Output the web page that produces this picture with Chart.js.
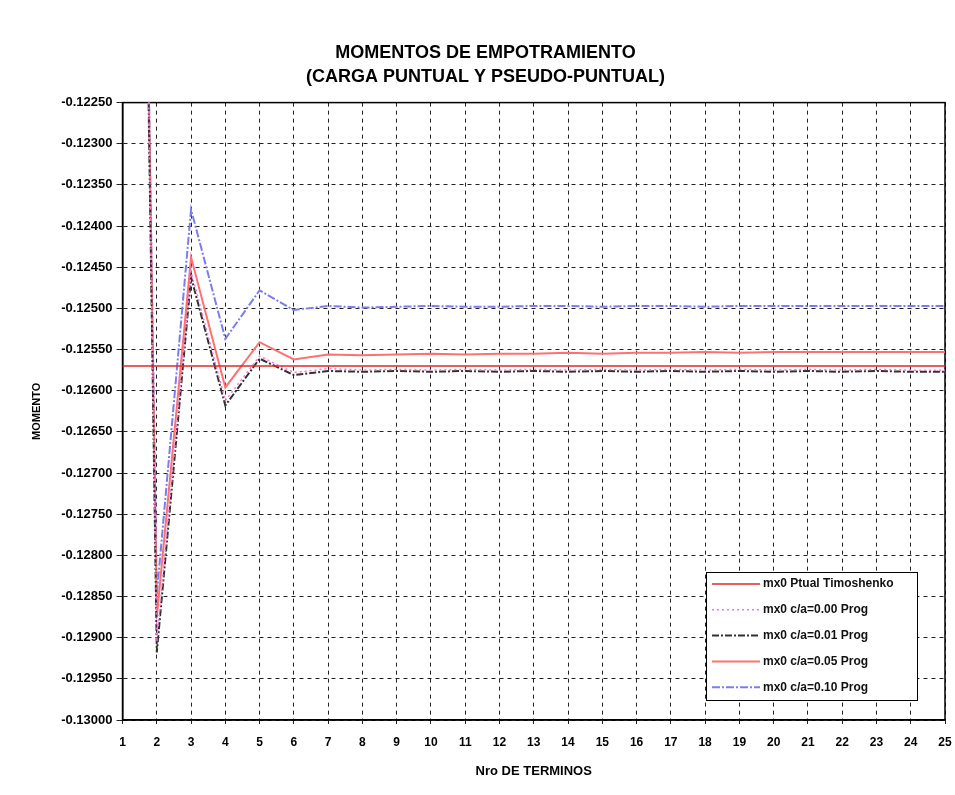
<!DOCTYPE html>
<html>
<head>
<meta charset="utf-8">
<script src="https://cdn.jsdelivr.net/npm/chart.js@4.4.1/dist/chart.umd.min.js"></script>
<style>
  html, body { margin: 0; padding: 0; background: #fff; }
  #wrap { width: 955px; height: 795px; position: relative; }
</style>
</head>
<body>
<div id="wrap"><canvas id="chartMomentos" width="955" height="795"></canvas></div>
<script>
// Nro de terminos (eje X)
const terminos = [1, 2, 3, 4, 5, 6, 7, 8, 9, 10, 11, 12, 13, 14, 15, 16, 17, 18, 19, 20, 21, 22, 23, 24, 25];

// Valor puntual de Timoshenko (constante)
const timoshenko = [-0.1257, -0.1257, -0.1257, -0.1257, -0.1257, -0.1257, -0.1257, -0.1257, -0.1257, -0.1257,
  -0.1257, -0.1257, -0.1257, -0.1257, -0.1257, -0.1257, -0.1257, -0.1257, -0.1257, -0.1257,
  -0.1257, -0.1257, -0.1257, -0.1257, -0.1257];

// Resultados del programa para c/a = 0.00
const prog000 = [-0.1010, -0.12905, -0.12455, -0.12612, -0.12558, -0.12578, -0.12573, -0.12575, -0.12574, -0.12575,
  -0.12574, -0.12575, -0.12574, -0.12575, -0.12574, -0.12575, -0.12574, -0.12575, -0.12574, -0.12575,
  -0.12574, -0.12575, -0.12574, -0.12575, -0.12575];

// c/a = 0.01
const prog001 = [-0.1012, -0.12918, -0.12462, -0.12618, -0.12561, -0.12581, -0.12576, -0.12577, -0.12576, -0.12577,
  -0.12576, -0.12577, -0.12576, -0.12577, -0.12576, -0.12577, -0.12576, -0.12577, -0.12576, -0.12577,
  -0.12576, -0.12577, -0.12576, -0.12577, -0.12577];

// c/a = 0.05
const prog005 = [-0.1014, -0.12875, -0.12438, -0.12596, -0.12541, -0.12562, -0.12556, -0.12557, -0.12556, -0.12555,
  -0.12556, -0.12555, -0.12555, -0.12554, -0.12555, -0.12554, -0.12554, -0.12553, -0.12554, -0.12553,
  -0.12553, -0.12553, -0.12553, -0.12553, -0.12553];

// c/a = 0.10
const prog010 = [-0.1018, -0.12848, -0.12380, -0.12537, -0.12478, -0.12502, -0.12497, -0.12499, -0.12498, -0.12497,
  -0.12498, -0.12498, -0.12497, -0.12497, -0.12498, -0.12497, -0.12497, -0.12498, -0.12497, -0.12497,
  -0.12497, -0.12497, -0.12497, -0.12497, -0.12497];

const yMin = -0.13;
const yMax = -0.1225;
const yStep = 0.0005;

const FONT = "'Liberation Sans', Arial, sans-serif";

// Leyenda dibujada dentro del area del grafico (abajo a la derecha)
const insideLegend = {
  id: 'insideLegend',
  afterDraw(chart) {
    const ctx = chart.ctx;
    const x0 = 706, y0 = 572, w = 211, h = 128;
    ctx.save();
    ctx.fillStyle = '#fff';
    ctx.fillRect(x0, y0, w, h);
    ctx.strokeStyle = '#000';
    ctx.lineWidth = 1;
    ctx.setLineDash([]);
    ctx.strokeRect(x0 + 0.5, y0 + 0.5, w, h);
    ctx.font = 'bold 12px ' + FONT;
    ctx.textBaseline = 'middle';
    chart.data.datasets.forEach((ds, i) => {
      const y = y0 + 12 + i * 25.8;
      ctx.strokeStyle = ds.borderColor;
      ctx.lineWidth = ds.borderWidth;
      ctx.setLineDash(ds.borderDash || []);
      ctx.beginPath();
      ctx.moveTo(x0 + 6, y);
      ctx.lineTo(x0 + 54, y);
      ctx.stroke();
      ctx.setLineDash([]);
      ctx.fillStyle = '#111';
      ctx.fillText(ds.label, x0 + 57, y);
    });
    ctx.restore();
  }
};

// marco solido del area de trazado
const plotFrame = {
  id: 'plotFrame',
  beforeDatasetsDraw(chart) {
    const { ctx, chartArea: a } = chart;
    ctx.save();
    ctx.strokeStyle = '#000';
    ctx.lineWidth = 1.5;
    ctx.setLineDash([]);
    ctx.strokeRect(a.left, a.top, a.right - a.left, a.bottom - a.top);
    ctx.restore();
  }
};

new Chart(document.getElementById('chartMomentos').getContext('2d'), {
  type: 'line',
  data: {
    labels: terminos,
    datasets: [
      { label: 'mx0 Ptual Timoshenko', data: timoshenko, borderColor: '#e02828', borderWidth: 1.5, pointRadius: 0 },
      { label: 'mx0 c/a=0.00 Prog', data: prog000, borderColor: '#ff70e0', borderWidth: 1.5, borderDash: [2, 3], pointRadius: 0 },
      { label: 'mx0 c/a=0.01 Prog', data: prog001, borderColor: '#2c342c', borderWidth: 2, borderDash: [7, 2, 2, 2], pointRadius: 0 },
      { label: 'mx0 c/a=0.05 Prog', data: prog005, borderColor: '#ff7070', borderWidth: 2, pointRadius: 0 },
      { label: 'mx0 c/a=0.10 Prog', data: prog010, borderColor: '#7b7cf0', borderWidth: 2, borderDash: [8, 2, 2, 2], pointRadius: 0 }
    ]
  },
  options: {
    responsive: false,
    animation: false,
    layout: { padding: { top: 5, right: 10, bottom: 12, left: 26 } },
    elements: { line: { tension: 0, fill: false } },
    plugins: {
      legend: { display: false },
      tooltip: { enabled: false },
      title: {
        display: true,
        text: ['MOMENTOS DE EMPOTRAMIENTO', '(CARGA PUNTUAL Y PSEUDO-PUNTUAL)'],
        color: '#000',
        font: { family: FONT, size: 18, weight: 'bold', lineHeight: 1.35 },
        padding: { top: 36, bottom: 13 }
      }
    },
    scales: {
      x: {
        offset: false,
        grid: { color: '#222', lineWidth: 1, tickLength: 4 },
        border: { color: '#000', width: 1.5, dash: [4, 4] },
        ticks: { color: '#000', font: { family: FONT, size: 12, weight: 'bold' }, maxRotation: 0, autoSkip: false, padding: 11 },
        title: { display: true, text: 'Nro DE TERMINOS', color: '#000', font: { family: FONT, size: 13, weight: 'bold' }, padding: { top: 3 } },
        // el ultimo numero puede quedar pegado al borde derecho
        afterFit: scale => { scale.paddingRight = 0; }
      },
      y: {
        min: yMin,
        max: yMax,
        grid: { color: '#222', lineWidth: 1, tickLength: 6 },
        border: { color: '#000', width: 1.5, dash: [4, 4] },
        ticks: {
          stepSize: yStep,
          color: '#000',
          font: { family: FONT, size: 13, weight: 'bold' },
          padding: 4,
          callback: v => v.toFixed(5)
        },
        title: { display: true, text: 'MOMENTO', color: '#000', font: { family: FONT, size: 11, weight: 'bold' }, padding: { bottom: 14 } }
      }
    }
  },
  plugins: [insideLegend, plotFrame]
});
</script>
</body>
</html>
